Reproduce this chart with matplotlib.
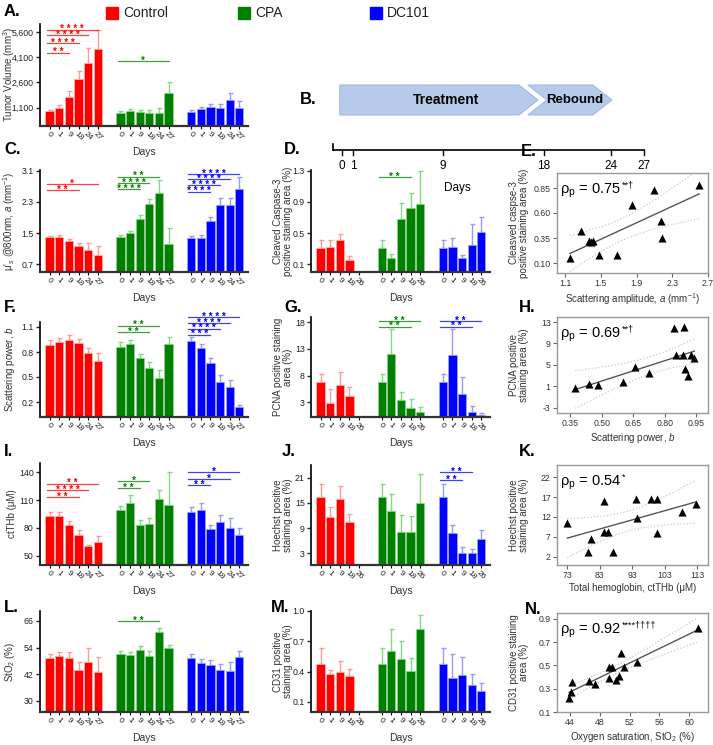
import numpy as np
import matplotlib
matplotlib.use("Agg")
import matplotlib.pyplot as plt
from matplotlib.patches import Polygon, Rectangle

plt.rcParams['font.family'] = ['Liberation Sans', 'DejaVu Sans']
plt.rcParams['mathtext.fontset'] = 'custom'
plt.rcParams['mathtext.rm'] = 'Liberation Sans'
plt.rcParams['mathtext.it'] = 'Liberation Sans:italic'

# ---------------- data ----------------
groups = ["Control", "CPA", "DC101"]
days6 = ["0", "1", "9", "18", "24", "27"]
days5 = ["0", "1", "9", "18", "26"]

vol_ctrl = [880, 1080, 1750, 2790, 3780, 4610]
vol_ctrl_err = [100, 200, 320, 515, 890, 1130]
vol_cpa = [760, 920, 840, 760, 800, 1950]
vol_cpa_err = [120, 120, 100, 180, 300, 700]
vol_dc = [840, 1000, 1120, 1060, 1575, 1100]
vol_dc_err = [140, 160, 220, 280, 420, 380]

a_ctrl = [1.39, 1.40, 1.29, 1.175, 1.06, 0.925]
a_ctrl_err = [0.04, 0.04, 0.06, 0.065, 0.19, 0.235]
a_cpa = [1.41, 1.49, 1.87, 2.24, 2.53, 1.23]
a_cpa_err = [0.05, 0.07, 0.09, 0.13, 0.33, 0.39]
a_dc = [1.37, 1.37, 1.81, 2.22, 2.22, 2.63]
a_dc_err = [0.06, 0.07, 0.11, 0.19, 0.19, 0.32]

b_ctrl = [0.89, 0.92, 0.95, 0.907, 0.79, 0.69]
b_ctrl_err = [0.05, 0.046, 0.05, 0.053, 0.06, 0.10]
b_cpa = [0.863, 0.90, 0.73, 0.607, 0.484, 0.90]
b_cpa_err = [0.057, 0.05, 0.05, 0.073, 0.096, 0.086]
b_dc = [0.93, 0.85, 0.666, 0.445, 0.378, 0.14]
b_dc_err = [0.048, 0.05, 0.059, 0.075, 0.086, 0.025]

thb_ctrl = [93.2, 93.2, 83.5, 72.7, 60.8, 64.8]
thb_ctrl_err = [3.6, 3.6, 3.6, 4.7, 1.1, 6.1]
thb_cpa = [99.7, 106.9, 83.5, 84.6, 111.2, 104.7]
thb_cpa_err = [4.3, 9.0, 5.4, 5.7, 9.4, 35.7]
thb_dc = [97.5, 99.7, 78.8, 86.4, 79.9, 72.3]
thb_dc_err = [5.1, 6.8, 4.7, 7.9, 11.1, 7.2]

sto_ctrl = [49.2, 50.25, 49.2, 43.95, 47.4, 43.2]
sto_ctrl_err = [1.8, 1.65, 2.7, 3.75, 6.3, 6.45]
sto_cpa = [51.0, 50.7, 52.8, 50.4, 61.2, 54.0]
sto_cpa_err = [1.5, 1.5, 2.1, 2.1, 1.8, 1.2]
sto_dc = [49.2, 47.25, 46.2, 43.95, 43.5, 49.65]
sto_dc_err = [1.8, 1.65, 2.25, 2.55, 4.2, 2.85]

cas_ctrl = [0.31, 0.323, 0.417, 0.151]
cas_ctrl_err = [0.10, 0.094, 0.077, 0.052]
cas_cpa = [0.31, 0.177, 0.679, 0.82, 0.876]
cas_cpa_err = [0.10, 0.06, 0.21, 0.197, 0.42]
cas_dc = [0.31, 0.327, 0.186, 0.353, 0.516]
cas_dc_err = [0.10, 0.116, 0.038, 0.261, 0.184]

pcna_ctrl = [6.75, 2.9, 6.2, 4.1]
pcna_ctrl_err = [1.65, 2.6, 2.55, 1.7]
pcna_cpa = [6.75, 12.1, 3.44, 1.9, 1.25]
pcna_cpa_err = [1.65, 4.6, 1.46, 1.7, 0.95]
pcna_dc = [6.75, 11.9, 4.56, 1.2, 0.56]
pcna_dc_err = [1.65, 4.8, 3.14, 1.1, 0.5]

hoe_ctrl = [16.3, 11.56, 15.85, 10.4]
hoe_ctrl_err = [3.1, 2.34, 3.15, 1.9]
hoe_cpa = [16.3, 13.15, 8.0, 8.15, 15.05]
hoe_cpa_err = [3.1, 3.95, 4.1, 3.75, 6.75]
hoe_dc = [16.3, 7.9, 3.0, 3.0, 6.33]
hoe_dc_err = [3.1, 1.76, 1.59, 0.95, 2.22]

cd_ctrl = [0.479, 0.377, 0.397, 0.357]
cd_ctrl_err = [0.155, 0.043, 0.109, 0.073]
cd_cpa = [0.479, 0.604, 0.525, 0.407, 0.822]
cd_cpa_err = [0.155, 0.218, 0.178, 0.128, 0.138]
cd_dc = [0.479, 0.334, 0.367, 0.271, 0.212]
cd_dc_err = [0.155, 0.241, 0.178, 0.109, 0.073]

# scatter data
e_x = [1.155, 1.28, 1.365, 1.39, 1.41, 1.475, 1.68, 1.85, 2.10, 2.17, 2.18, 2.60]
e_y = [0.153, 0.42, 0.32, 0.31, 0.32, 0.177, 0.18, 0.68, 0.83, 0.52, 0.35, 0.88]
h_x = [0.374, 0.44, 0.48, 0.603, 0.658, 0.726, 0.844, 0.89, 0.855, 0.884, 0.923, 0.94, 0.896, 0.909]
h_y = [0.63, 1.38, 1.31, 1.88, 4.56, 3.56, 11.9, 12.0, 6.88, 6.88, 6.88, 6.19, 4.19, 2.88]
k_x = [73, 79.2, 80.3, 84.2, 84.4, 85.4, 87, 94, 94.3, 98.6, 100.5, 100.5, 108.2, 112.6]
k_y = [10.6, 3.1, 6.4, 8.1, 16.1, 8.3, 3.1, 16.5, 11.7, 16.5, 16.5, 7.9, 13.3, 15.3]
n_x = [43.9, 44.2, 44.3, 46.6, 47.4, 49.2, 49.3, 49.6, 50.2, 50.6, 50.8, 51.3, 53.0, 61.1]
n_y = [0.218, 0.276, 0.356, 0.368, 0.339, 0.396, 0.486, 0.486, 0.376, 0.41, 0.606, 0.483, 0.529, 0.817]

rho_labels = ["0.75", "0.69", "0.54", "0.92"]
rho_marks = ["**†", "**†", "*", "****††††"]

timeline_days = [0, 1, 9, 18, 24, 27]
phases = ["Treatment", "Rebound"]

# ---------------- style ----------------
W, H = 713, 745
fig = plt.figure(figsize=(W / 100, H / 100), dpi=100)
COL = ["#ff0000", "#008000", "#0000ff"]
LIGHT = ["#ff9a9a", "#86d886", "#9a9aff"]
EDGE = ["#ffb0b0", "#8fd08f", "#a0a0ff"]
TXT = '#333333'


def px_axes(l, t, r, b):
    return fig.add_axes([l / W, 1 - b / H, (r - l) / W, (b - t) / H])


def star_text(s):
    return " ".join(list(s))


def bar_panel(l, t, r, b, series, errs, labels, ylim, yticks, ylabel, sigs,
              tick_fmt=None, ylab_right=17):
    ax = px_axes(l, t, r, b)
    nb = len(labels)
    step = nb + 1.35
    xs_all = []
    for g in range(3):
        vals = np.array(list(series[g]) + [np.nan] * (nb - len(series[g])), float)
        er = np.array(list(errs[g]) + [np.nan] * (nb - len(errs[g])), float)
        x = g * step + np.arange(nb)
        xs_all.extend(x)
        ax.errorbar(x, vals, yerr=[np.zeros(nb), er], fmt='none', ecolor=LIGHT[g],
                    elinewidth=1.0, capsize=1.8, capthick=1.0, zorder=1)
        ax.bar(x, vals, width=0.86, color=COL[g], edgecolor=EDGE[g], linewidth=0.6,
               zorder=2)
    for (g, i0, i1, y, s) in sigs:
        x0 = g * step + i0 - 0.3
        x1 = g * step + i1
        ax.plot([x0, x1], [y, y], color=COL[g], lw=0.9, clip_on=False, zorder=3,
                alpha=0.75)
        ax.annotate(star_text(s), ((x0 + x1) / 2, y), xytext=(0, -2.0),
                    textcoords='offset points', ha='center', va='baseline',
                    color=COL[g], fontsize=7, fontweight='bold',
                    annotation_clip=False)
    ax.set_xticks(xs_all)
    ax.set_xticklabels(labels * 3, rotation=-45, ha='center', fontsize=6,
                       color='#222')
    ax.set_xlim(-1.0, 2 * step + nb - 1 + 0.9)
    ax.set_ylim(*ylim)
    ax.set_yticks(yticks)
    if tick_fmt:
        ax.set_yticklabels([tick_fmt(v) for v in yticks])
    ax.tick_params(axis='y', labelsize=6.3, length=3, width=1, pad=1.5, colors='#222')
    ax.tick_params(axis='x', length=2.5, width=0.8, pad=0.5)
    for s in ['top', 'right']:
        ax.spines[s].set_visible(False)
    ax.spines['left'].set_linewidth(1.2)
    ax.spines['bottom'].set_linewidth(1.6)
    ax.spines['bottom'].set_color('#333')
    ax.set_ylabel(ylabel, fontsize=7, color=TXT, linespacing=1.05)
    ax.yaxis.set_label_coords((ylab_right - l) / (r - l), 0.5)
    ax.set_xlabel("Days", fontsize=7.5, color=TXT, va='center')
    ax.xaxis.set_label_coords(0.5, -26 / (b - t))
    return ax


def scatter_panel(l, t, r, b, xs, ys, xlim, ylim, xticks, yticks, xlabel, ylabel,
                  rho, mark, xfmt="{:g}", yfmt="{:g}"):
    ax = px_axes(l, t, r, b)
    x = np.array(xs, float)
    y = np.array(ys, float)
    k, c = np.polyfit(x, y, 1)
    n = len(x)
    resid = y - (k * x + c)
    s = np.sqrt(np.sum(resid ** 2) / (n - 2))
    sxx = np.sum((x - x.mean()) ** 2)
    xg = np.linspace(x.min(), x.max(), 100)
    yg = k * xg + c
    half = 2.2 * s * np.sqrt(1 / n + (xg - x.mean()) ** 2 / sxx)
    ax.plot(xg, yg, color='#555', lw=1.0, zorder=2)
    ax.plot(xg, yg + half, color='#c8c8c8', lw=0.9, ls=':', zorder=1)
    ax.plot(xg, yg - half, color='#c8c8c8', lw=0.9, ls=':', zorder=1)
    ax.scatter(x, y, marker='^', s=34, color='black', zorder=3, linewidths=0)
    ax.set_xlim(*xlim)
    ax.set_ylim(*ylim)
    ax.set_xticks(xticks)
    ax.set_yticks(yticks)
    ax.set_xticklabels([xfmt.format(v) for v in xticks])
    ax.set_yticklabels([yfmt.format(v) for v in yticks])
    ax.tick_params(labelsize=6.3, length=3, width=0.8, colors='#666', labelcolor='#333',
                   pad=1.5)
    for sp in ax.spines.values():
        sp.set_color('#999')
        sp.set_linewidth(1.0)
    ax.set_xlabel(xlabel, fontsize=7, color=TXT, labelpad=2)
    ax.set_ylabel(ylabel, fontsize=7, color=TXT, linespacing=1.05)
    ax.yaxis.set_label_coords((529 - l) / (r - l), 0.5)
    t1 = ax.text(0.02, 0.91, r"ρ$_\mathregular{p}$ = " + rho,
                 transform=ax.transAxes, ha='left', va='top', fontsize=10.5,
                 color='black')
    fig.canvas.draw()
    bb = t1.get_window_extent(fig.canvas.get_renderer())
    fig.text(bb.x1 / W + 0.5 / W, (bb.y1 + 1) / H, mark, ha='left', va='top',
             fontsize=6.5, color='black')
    return ax


# ---------------- legend ----------------
leg_x = [106, 238, 370]
for g in range(3):
    fig.patches.append(Rectangle((leg_x[g] / W, 1 - 19 / H), 12 / W, 12 / H,
                                 transform=fig.transFigure, color=COL[g]))
    fig.text((leg_x[g] + 17) / W, 1 - 13 / H, groups[g], fontsize=10, va='center',
             ha='left', color='#222')

# ---------------- panel letters ----------------
letters = [("A.", 4, 12), ("B.", 300, 100), ("C.", 4, 150), ("D.", 284, 150),
           ("E.", 521, 152), ("F.", 4, 308), ("G.", 284, 308), ("H.", 519, 308),
           ("I.", 4, 452), ("J.", 282, 452), ("K.", 519, 452), ("L.", 4, 608),
           ("M.", 271, 608), ("N.", 525, 610)]
for s, x, y in letters:
    fig.text(x / W, 1 - y / H, s, fontsize=12, fontweight='bold', va='center',
             ha='left')

LX = (40, 248)
MX = (311, 490)
MYL = 293

# ---- column 1
bar_panel(LX[0], 24, LX[1], 126, [vol_ctrl, vol_cpa, vol_dc],
          [vol_ctrl_err, vol_cpa_err, vol_dc_err], days6, (0, 6080),
          [1100, 2600, 4100, 5600], "Tumor Volume (mm$^3$)",
          [(0, 0, 5, 5740, "****"), (0, 0, 4, 5400, "****"),
           (0, 0, 3, 4945, "****"), (0, 0, 2, 4370, "**"),
           (1, 0, 5, 3855, "*")],
          tick_fmt=lambda v: f"{v:,.0f}", ylab_right=17)
bar_panel(LX[0], 170, LX[1], 272, [a_ctrl, a_cpa, a_dc],
          [a_ctrl_err, a_cpa_err, a_dc_err], days6, (0.5, 3.12),
          [0.7, 1.5, 2.3, 3.1], "μ$'_s$ @800nm, $a$ (mm$^{-1}$)",
          [(0, 0, 5, 2.755, "*"), (0, 0, 3, 2.60, "**"),
           (1, 0, 4, 2.95, "**"), (1, 0, 3, 2.78, "****"), (1, 0, 2, 2.63, "****"),
           (2, 0, 5, 3.01, "****"), (2, 0, 4, 2.885, "****"),
           (2, 0, 3, 2.73, "****"), (2, 0, 2, 2.565, "****")], ylab_right=17)
bar_panel(LX[0], 322, LX[1], 417, [b_ctrl, b_cpa, b_dc],
          [b_ctrl_err, b_cpa_err, b_dc_err], days6, (0.02, 1.16),
          [0.2, 0.5, 0.8, 1.1], "Scattering power, $b$",
          [(1, 0, 4, 1.116, "**"), (1, 0, 3, 1.037, "**"),
           (2, 0, 5, 1.215, "****"), (2, 0, 4, 1.147, "****"),
           (2, 0, 3, 1.08, "****"), (2, 0, 2, 1.01, "***")], ylab_right=17)
bar_panel(LX[0], 463, LX[1], 565, [thb_ctrl, thb_cpa, thb_dc],
          [thb_ctrl_err, thb_cpa_err, thb_dc_err], days6, (40, 150),
          [50, 80, 110, 140], "ctTHb (μM)",
          [(0, 0, 5, 127.8, "**"), (0, 0, 4, 120.6, "****"), (0, 0, 3, 113.4, "**"),
           (1, 0, 3, 130.3, "*"), (1, 0, 2, 123.1, "**"),
           (2, 0, 5, 140, "*"), (2, 0, 4, 132.8, "*"), (2, 0, 2, 126, "**")],
          ylab_right=17)
bar_panel(LX[0], 611, LX[1], 712, [sto_ctrl, sto_cpa, sto_dc],
          [sto_ctrl_err, sto_cpa_err, sto_dc_err], days6, (25, 70.5),
          [30, 42, 54, 66], "StO$_2$ (%)",
          [(1, 0, 4, 66, "**")], ylab_right=17)

# ---- column 2
bar_panel(MX[0], 170, MX[1], 272, [cas_ctrl, cas_cpa, cas_dc],
          [cas_ctrl_err, cas_cpa_err, cas_dc_err], days5, (0, 1.31),
          [0.1, 0.5, 0.9, 1.3], "Cleaved Caspase-3\npositive staining area (%)",
          [(1, 0, 3, 1.214, "**")], ylab_right=MYL)
bar_panel(MX[0], 317, MX[1], 417, [pcna_ctrl, pcna_cpa, pcna_dc],
          [pcna_ctrl_err, pcna_cpa_err, pcna_dc_err], days5, (0.25, 19),
          [3, 8, 13, 18], "PCNA positive staining\narea (%)",
          [(1, 0, 4, 18.25, "**"), (1, 0, 3, 17.2, "**"),
           (2, 0, 4, 18.2, "**"), (2, 0, 3, 17.2, "**")], ylab_right=MYL)
bar_panel(MX[0], 465, MX[1], 565, [hoe_ctrl, hoe_cpa, hoe_dc],
          [hoe_ctrl_err, hoe_cpa_err, hoe_dc_err], days5, (0.2, 24),
          [3, 9, 15, 21], "Hoechst positive\nstaining area (%)",
          [(2, 0, 3, 22.27, "**"), (2, 0, 2, 20.45, "**")], ylab_right=MYL)
bar_panel(MX[0], 611, MX[1], 712, [cd_ctrl, cd_cpa, cd_dc],
          [cd_ctrl_err, cd_cpa_err, cd_dc_err], days5, (0, 1.0),
          [0.1, 0.4, 0.7, 1.0], "CD31 positive\nstaining area (%)", [],
          tick_fmt=lambda v: f"{v:.1f}", ylab_right=MYL)

# ---- column 3 (scatter)
scatter_panel(557, 173, 708, 273, e_x, e_y, (1.01, 2.7), (0, 1.0),
              [1.1, 1.5, 1.9, 2.3, 2.7], [0.10, 0.35, 0.60, 0.85],
              "Scattering amplitude, $a$ (mm$^{-1}$)",
              "Cleasved caspse-3\npositive staining area (%)",
              rho_labels[0], rho_marks[0], xfmt="{:.1f}", yfmt="{:.2f}")
scatter_panel(557, 317, 708, 413, h_x, h_y, (0.287, 1.005), (-4.0, 13.94),
              [0.35, 0.50, 0.65, 0.80, 0.95], [-3, 1, 5, 9, 13],
              "Scattering power, $b$", "PCNA positive\nstaining area (%)",
              rho_labels[1], rho_marks[1], xfmt="{:.2f}")
scatter_panel(557, 465, 708, 565, k_x, k_y, (69.8, 116.3), (-0.1, 25.1),
              [73, 83, 93, 103, 113], [2, 7, 12, 17, 22],
              "Total hemoglobin, ctTHb (μM)", "Hoechst positive\nstaining area (%)",
              rho_labels[2], rho_marks[2])
scatter_panel(557, 613, 708, 712, n_x, n_y, (42.3, 62.5), (0.1, 0.95),
              [44, 48, 52, 56, 60], [0.1, 0.3, 0.5, 0.7, 0.9],
              "Oxygen saturation, StO$_2$ (%)", "CD31 positive staining\narea (%)",
              rho_labels[3], rho_marks[3], yfmt="{:.1f}")

# ---------------- panel B (timeline) ----------------
axB = px_axes(320, 70, 665, 200)
PXD = 11.2
axB.set_xlim((320 - 342) / PXD, (665 - 342) / PXD)
axB.set_ylim(200, 70)
axB.axis('off')
arrow_fc = "#b6cbec"
arrow_ec = "#a3bbe2"
treat = Polygon([(-0.2, 85), (15.8, 85), (17.5, 100), (15.8, 115), (-0.2, 115)],
                closed=True, fc=arrow_fc, ec=arrow_ec, lw=0.8)
rebound = Polygon([(16.6, 85), (22.4, 85), (24.1, 100), (22.4, 115), (16.6, 115),
                   (18.3, 100)], closed=True, fc=arrow_fc, ec=arrow_ec, lw=0.8)
axB.add_patch(treat)
axB.add_patch(rebound)
axB.text(9.3, 100, phases[0], ha='center', va='center', fontsize=10,
         fontweight='bold')
axB.text(20.8, 100, phases[1], ha='center', va='center', fontsize=9.5,
         fontweight='bold')
axB.plot([-0.8, 27.0], [150, 150], color='black', lw=1.2)
axB.plot([-0.8, -0.8], [144, 150], color='black', lw=1.2)
for d in timeline_days:
    axB.plot([d, d], [150, 155], color='black', lw=1.0)
    axB.text(d, 160, str(d), ha='center', va='top', fontsize=8.5)
axB.text(10.3, 188, "Days", ha='center', va='center', fontsize=8.5)

fig.savefig("out.png", dpi=100)
